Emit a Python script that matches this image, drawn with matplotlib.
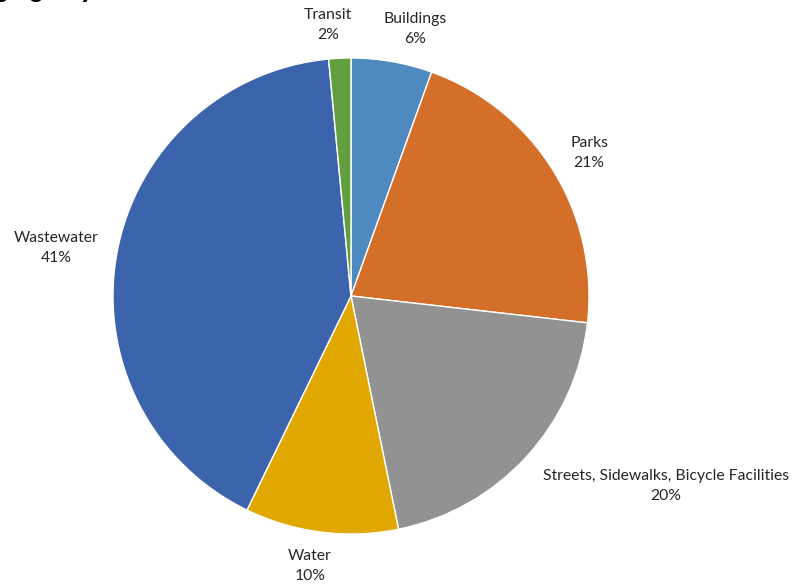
import matplotlib.pyplot as plt

# Share of capital funding by category (clockwise from 12 o'clock)
categories = ["Buildings", "Parks", "Streets, Sidewalks, Bicycle Facilities",
              "Water", "Wastewater", "Transit"]
shares = [5.5, 21.3, 20.0, 10.4, 41.3, 1.5]
colors = ["#4E89C0", "#D46F2A", "#929292", "#E0A800", "#3C64AD", "#62A03F"]

# label anchor points (pie radius = 1)
label_pos = [(0.269, 1.122), (1.0, 0.601), (1.324, -0.798),
             (-0.172, -1.134), (-1.239, 0.202), (-0.097, 1.139)]

W, H = 793, 586
fig = plt.figure(figsize=(W / 100, H / 100), dpi=100)
plt.rcParams['font.family'] = ['Lato', 'DejaVu Sans']

cx, cy, r = 351, 296, 238
ax = fig.add_axes([(cx - r) / W, (H - cy - r) / H, 2 * r / W, 2 * r / H])

ax.pie(shares, colors=colors, startangle=90, counterclock=False, radius=1,
       wedgeprops=dict(edgecolor="white", linewidth=1))
ax.set_xlim(-1, 1)
ax.set_ylim(-1, 1)
ax.axis('off')

for name, val, (x, y) in zip(categories, shares, label_pos):
    ax.text(x, y, f"{name}\n{val:.0f}%", ha='center', va='center',
            fontsize=11.3, color="#262626", linespacing=1.6, clip_on=False)

# title sits mostly above the visible area
fig.text(93 / W, 1 + 2 / H, "Funding by Managing Agency", ha='right',
         va='baseline', fontsize=17, fontweight='heavy')

fig.savefig("out.png", dpi=100)
